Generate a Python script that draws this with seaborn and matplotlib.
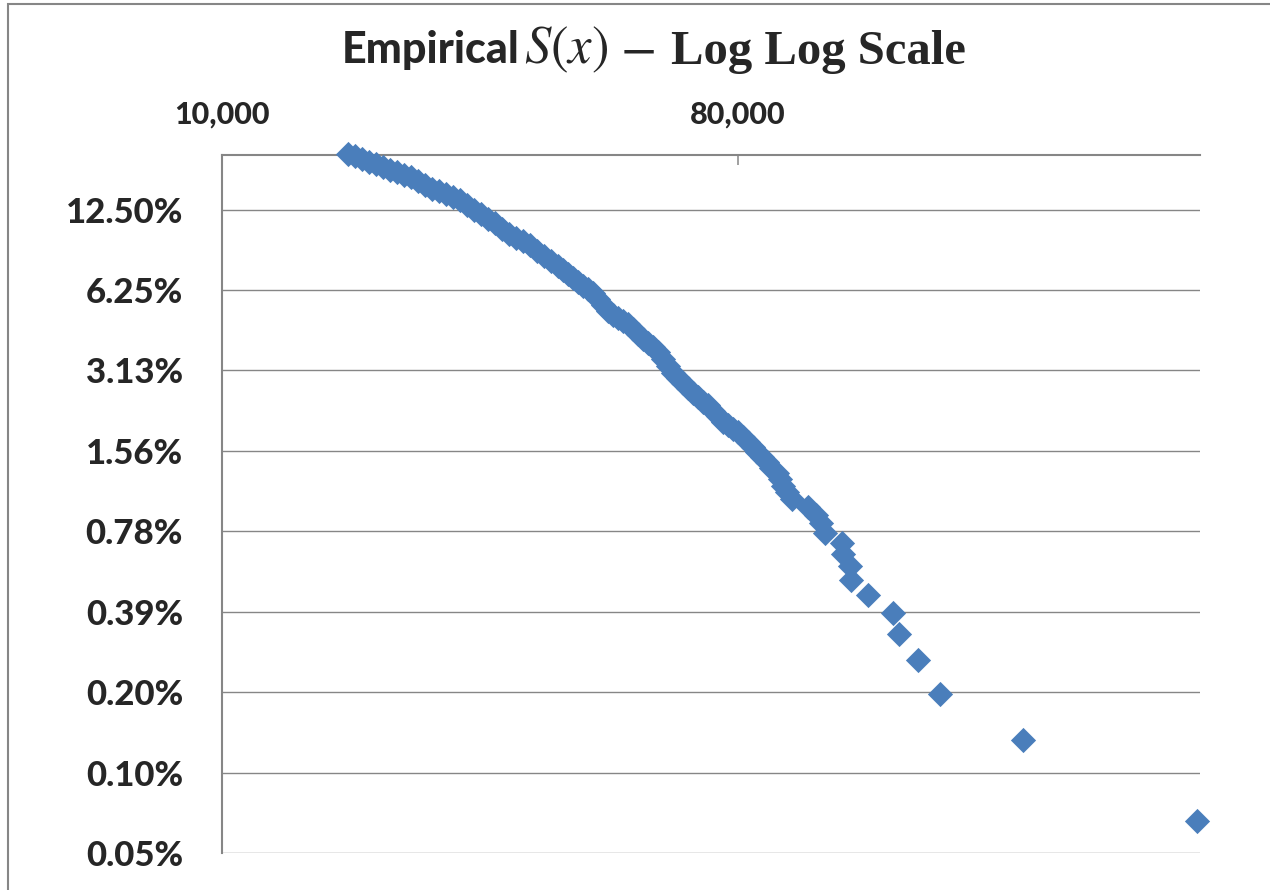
import matplotlib
matplotlib.use("Agg")
import matplotlib.pyplot as plt
import seaborn as sns
import pandas as pd
from matplotlib.ticker import NullLocator
from matplotlib.offsetbox import TextArea, HPacker, DrawingArea, AnchoredOffsetbox
from matplotlib.patches import Rectangle

# loss amount and empirical survival S(x) in percent
loss = [16620, 17090, 17580, 18090, 18600, 19140, 19680, 20240, 20820, 21420,
        22030, 22660, 23310, 23980, 24660, 25370, 26100, 26840, 27610, 28400,
        29210, 30050, 30910, 31800, 32700, 33640, 34600, 35590, 36610, 37660,
        38730, 39530, 40320, 41150, 41990, 42840, 43720, 44600, 45510, 46440,
        47380, 48350, 49320, 50340, 51360, 52400, 53470, 54560, 55670, 56800,
        57960, 59140, 60340, 61570, 62820, 64100, 65410, 66740, 68100, 69480,
        70900, 72340, 73820, 75320, 76850, 78420, 80000, 81630, 83300, 85000,
        86380, 88140, 89930, 91390, 93620, 94760, 95910, 97470, 99460, 106080,
        109550, 111790, 113600, 121900, 122200, 125900, 126300, 135100, 149420,
        153080, 165250, 180600, 252300, 508700]
surv_pct = [20.26, 19.75, 19.27, 18.86, 18.45, 18.05, 17.65, 17.26, 16.89, 16.52,
            16.01, 15.46, 14.98, 14.67, 14.35, 13.95, 13.54, 13.04, 12.50, 11.98,
            11.53, 11.09, 10.58, 10.11, 9.79, 9.52, 9.18, 8.76, 8.37, 8.00,
            7.66, 7.41, 7.16, 6.92, 6.70, 6.49, 6.29, 6.10, 5.79, 5.51,
            5.23, 5.05, 4.93, 4.80, 4.67, 4.46, 4.26, 4.09, 3.95, 3.81,
            3.67, 3.46, 3.25, 3.06, 2.92, 2.80, 2.68, 2.57, 2.48, 2.39,
            2.31, 2.20, 2.11, 2.01, 1.95, 1.89, 1.83, 1.76, 1.68, 1.61,
            1.545, 1.481, 1.417, 1.352, 1.288, 1.223, 1.159, 1.095, 1.030, 0.966,
            0.901, 0.837, 0.773, 0.708, 0.644, 0.580, 0.515, 0.451, 0.386,
            0.322, 0.258, 0.193, 0.129, 0.0644]

y_ticks = [0.048828125, 0.09765625, 0.1953125, 0.390625, 0.78125,
           1.5625, 3.125, 6.25, 12.5]
y_labels = ["0.05%", "0.10%", "0.20%", "0.39%", "0.78%",
            "1.56%", "3.13%", "6.25%", "12.50%"]
x_ticks = [10000, 80000]
x_labels = ["10,000", "80,000"]

sns.set_style("white")
plt.rcParams["font.family"] = ["Lato", "DejaVu Sans"]

GRAY = "#868686"
BLUE = "#4A7EBB"

fig = plt.figure(figsize=(12.7, 8.9), dpi=100)
ax = fig.add_axes([222 / 1270, 1 - 853 / 890, 978 / 1270, 698 / 890])

df = pd.DataFrame({"loss": loss, "survival": surv_pct})
sns.scatterplot(data=df, x="loss", y="survival", marker="D", s=165,
                color=BLUE, linewidth=0, ax=ax, clip_on=False, zorder=3)

ax.set_xscale("log", base=8)
ax.set_yscale("log", base=2)
ax.set_xlim(10000, 515000)
ax.set_ylim(y_ticks[0], 20)
ax.set_xticks(x_ticks, x_labels)
ax.set_yticks(y_ticks, y_labels)
ax.xaxis.set_minor_locator(NullLocator())
ax.yaxis.set_minor_locator(NullLocator())
ax.xaxis.tick_top()
ax.set_xlabel("")
ax.set_ylabel("")

ax.tick_params(axis="x", direction="in", length=7, width=1.1, color=GRAY,
               pad=19, labelsize=22)
ax.tick_params(axis="y", direction="out", length=8, width=1.1, color=GRAY,
               pad=20, labelsize=25)
for lab in ax.get_xticklabels() + ax.get_yticklabels():
    lab.set_fontweight(900)

ax.grid(axis="y", color=GRAY, lw=1.0)
ax.grid(axis="x", visible=False)
ax.set_axisbelow(True)
for side in ["right", "bottom"]:
    ax.spines[side].set_visible(False)
for side in ["left", "top"]:
    ax.spines[side].set_color(GRAY)
    ax.spines[side].set_linewidth(1.5)

# title: mixed fonts like the Excel equation title
t1 = TextArea("Empirical", textprops=dict(family="Lato", fontweight=900, fontsize=31))
t2 = TextArea(r"$S(x)$", textprops=dict(fontsize=38, math_fontfamily="stix"))
t3 = TextArea(r"$-$", textprops=dict(fontsize=38, math_fontfamily="stix"))
t4 = TextArea("Log Log Scale", textprops=dict(family="Liberation Serif", fontweight="bold", fontsize=35))
title = HPacker(children=[t1, DrawingArea(3, 1), t2, DrawingArea(8, 1), t3,
                          DrawingArea(12, 1), t4], sep=0, align="baseline")
anch = AnchoredOffsetbox(loc="center", child=title, pad=0, borderpad=0, frameon=False,
                         bbox_to_anchor=(654 / 1270, 1 - 50 / 890),
                         bbox_transform=fig.transFigure)
fig.add_artist(anch)

# chart area border
fig.add_artist(Rectangle((8 / 1270, -0.5), 1.5, 1.5 - 4 / 890, transform=fig.transFigure,
                         fill=False, edgecolor=GRAY, lw=1.5, clip_on=False))

fig.savefig("out.png", dpi=100)
